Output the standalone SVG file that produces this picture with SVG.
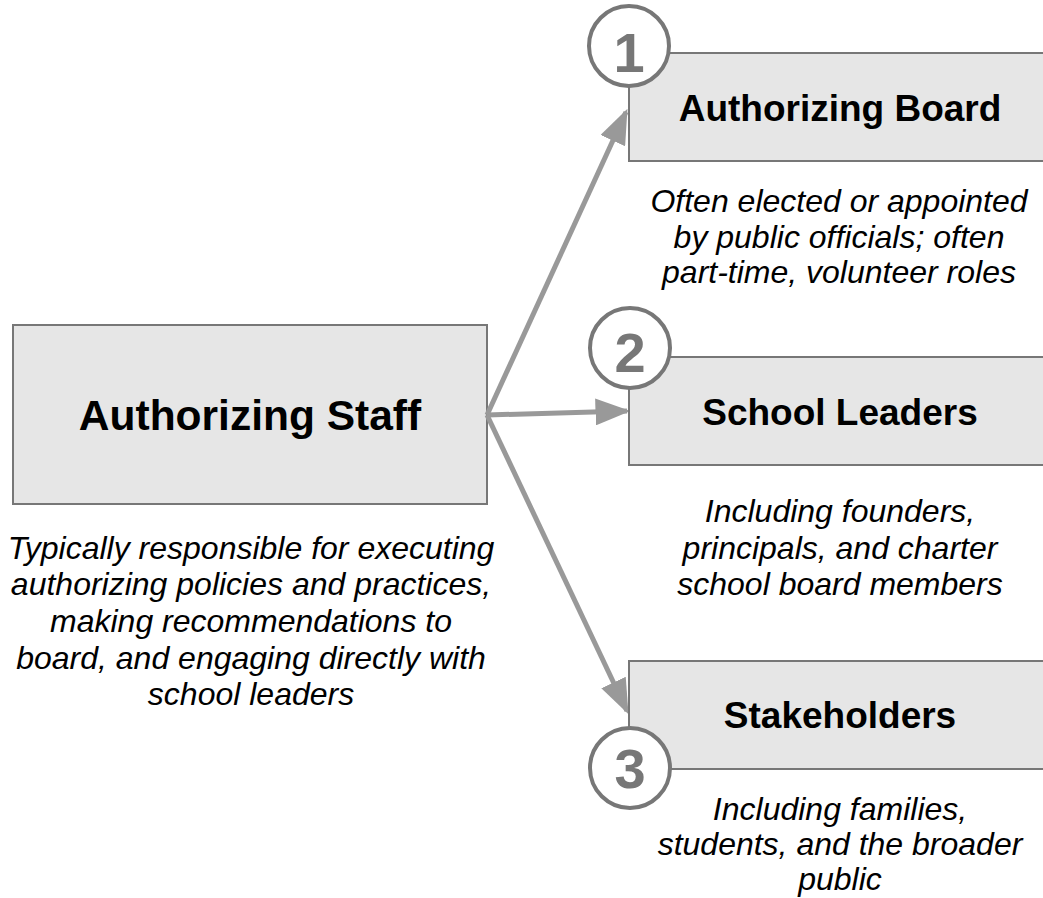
<svg xmlns="http://www.w3.org/2000/svg" width="1043" height="898" viewBox="0 0 1043 898">
<style>
.box{fill:#e6e6e6;stroke:#777;stroke-width:2}
.title{font-family:"Liberation Sans",Arial,sans-serif;font-weight:bold;fill:#000;text-anchor:middle}
.desc{font-family:"Liberation Sans",Arial,sans-serif;font-style:italic;font-size:32px;fill:#000;text-anchor:middle}
.badge{fill:#fff;stroke:#777;stroke-width:4}
.num{font-family:"Liberation Sans",Arial,sans-serif;font-weight:bold;font-size:56px;fill:#777;text-anchor:middle}
.conn{stroke:#999;stroke-width:5;fill:none}
</style>
<defs>
<marker id="ah" viewBox="0 0 10 10" preserveAspectRatio="none" refX="9" refY="5" markerWidth="7" markerHeight="5.4" markerUnits="strokeWidth" orient="auto">
<path d="M0,0 L10,5 L0,10 z" fill="#999"/>
</marker>
</defs>
<rect width="1043" height="898" fill="#fff"/>
<g id="staff">
<rect class="box" x="13" y="325" width="474" height="179"/>
<text class="title" x="250" y="430" font-size="42.5">Authorizing Staff</text>
<text class="desc" x="251" y="559">Typically responsible for executing</text>
<text class="desc" x="251" y="595">authorizing policies and practices,</text>
<text class="desc" x="251" y="632">making recommendations to</text>
<text class="desc" x="251" y="669">board, and engaging directly with</text>
<text class="desc" x="251" y="705">school leaders</text>
</g>
<g id="connectors">
<line class="conn" x1="487" y1="415" x2="626" y2="112" marker-end="url(#ah)"/>
<line class="conn" x1="487" y1="415" x2="627" y2="411" marker-end="url(#ah)"/>
<line class="conn" x1="487" y1="415" x2="627" y2="711" marker-end="url(#ah)"/>
</g>
<g id="board">
<rect class="box" x="629" y="53" width="420" height="108"/>
<text class="title" x="840" y="121" font-size="37">Authorizing Board</text>
<circle class="badge" cx="629" cy="46" r="40"/>
<text class="num" x="629" y="72">1</text>
<text class="desc" x="839" y="212">Often elected or appointed</text>
<text class="desc" x="839" y="248">by public officials; often</text>
<text class="desc" x="839" y="283">part-time, volunteer roles</text>
</g>
<g id="leaders">
<rect class="box" x="629" y="357" width="420" height="108"/>
<text class="title" x="840" y="425" font-size="37">School Leaders</text>
<circle class="badge" cx="630" cy="348" r="40"/>
<text class="num" x="630" y="372">2</text>
<text class="desc" x="840" y="522">Including founders,</text>
<text class="desc" x="840" y="559">principals, and charter</text>
<text class="desc" x="840" y="595">school board members</text>
</g>
<g id="stakeholders">
<rect class="box" x="629" y="661" width="420" height="108"/>
<text class="title" x="840" y="728" font-size="37">Stakeholders</text>
<circle class="badge" cx="630" cy="768" r="40"/>
<text class="num" x="630" y="788">3</text>
<text class="desc" x="840" y="820">Including families,</text>
<text class="desc" x="840" y="855">students, and the broader</text>
<text class="desc" x="840" y="890">public</text>
</g>
</svg>
